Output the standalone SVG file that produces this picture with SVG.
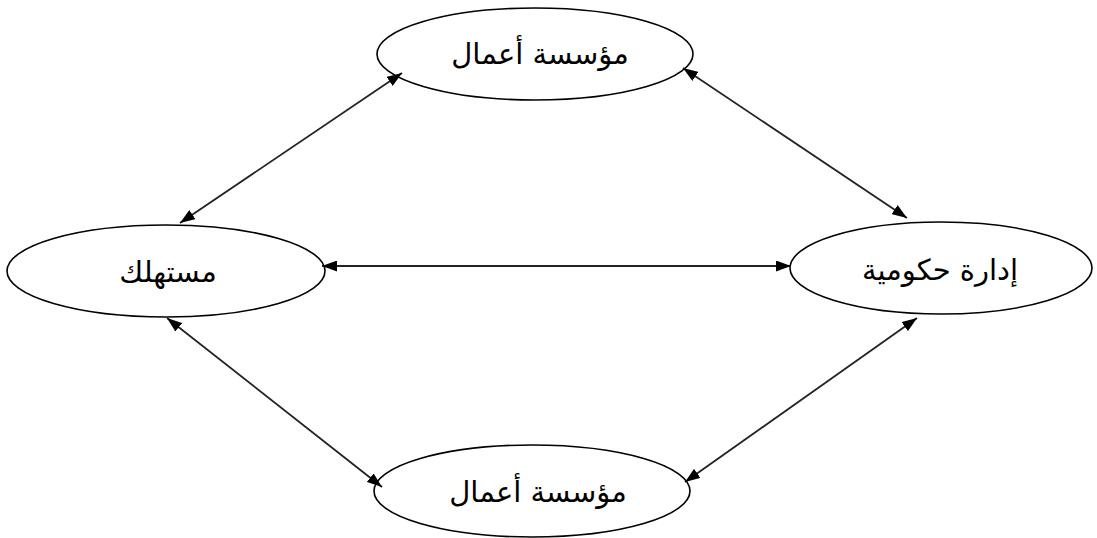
<svg xmlns="http://www.w3.org/2000/svg" width="1097" height="538" viewBox="0 0 1097 538">
<style>
.node ellipse{fill:#fff;stroke:#000;stroke-width:1.6}
.node text{font-family:"DejaVu Sans","Noto Sans",sans-serif;font-size:29px;fill:#000;text-anchor:middle}
.conn line{stroke:#222;stroke-width:1.8;marker-start:url(#ah);marker-end:url(#ah)}
</style>
<defs>
<marker id="ah" viewBox="0 0 15 11" refX="15" refY="5.5" markerWidth="15" markerHeight="11" markerUnits="userSpaceOnUse" orient="auto-start-reverse">
<path d="M0,0 L15,5.5 L0,11 Z" fill="#000"/>
</marker>
</defs>
<rect width="1097" height="538" fill="#fff"/>
<g id="top-business" class="node">
<ellipse cx="535" cy="54" rx="158" ry="46"/>
<text x="540" y="64" direction="rtl">مؤسسة أعمال</text>
</g>
<g id="consumer" class="node">
<ellipse cx="166" cy="271" rx="159" ry="46"/>
<text x="168" y="282" direction="rtl">مستهلك</text>
</g>
<g id="government" class="node">
<ellipse cx="941" cy="268" rx="151" ry="46"/>
<text x="940" y="280" direction="rtl">إدارة حكومية</text>
</g>
<g id="bottom-business" class="node">
<ellipse cx="532" cy="491" rx="158" ry="46"/>
<text x="538" y="502" direction="rtl">مؤسسة أعمال</text>
</g>
<g id="connectors" class="conn">
<line x1="180" y1="223" x2="402" y2="73"/>
<line x1="683" y1="68" x2="907" y2="218"/>
<line x1="322" y1="266" x2="791" y2="266"/>
<line x1="167" y1="318" x2="382" y2="487"/>
<line x1="685" y1="482" x2="917" y2="318"/>
</g>
</svg>
